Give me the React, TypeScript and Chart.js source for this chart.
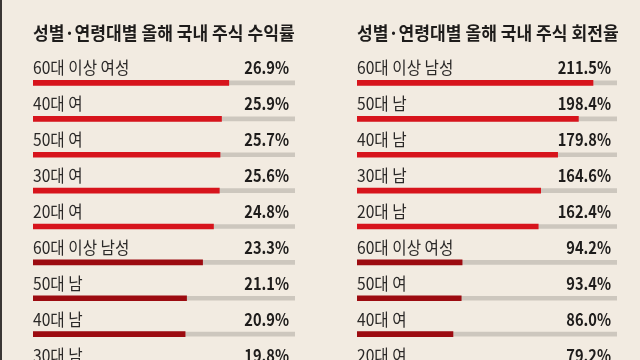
import React, { useEffect, useRef } from "react";
import { Chart, registerables } from "chart.js";

Chart.register(...registerables);

// ---- data ----
const returnTitle = "성별·연령대별 올해 국내 주식 수익률";
const returnLabels = ["60대 이상 여성", "40대 여", "50대 여", "30대 여", "20대 여", "60대 이상 남성", "50대 남", "40대 남", "30대 남"];
const returnValues = [26.9, 25.9, 25.7, 25.6, 24.8, 23.3, 21.1, 20.9, 19.8];
const returnHighlight = [true, true, true, true, true, false, false, false, false];
const returnMax = 36;

const turnoverTitle = "성별·연령대별 올해 국내 주식 회전율";
const turnoverLabels = ["60대 이상 남성", "50대 남", "40대 남", "30대 남", "20대 남", "60대 이상 여성", "50대 여", "40대 여", "20대 여"];
const turnoverValues = [211.5, 198.4, 179.8, 164.6, 162.4, 94.2, 93.4, 86.0, 79.2];
const turnoverHighlight = [true, true, true, true, true, false, false, false, false];
const turnoverMax = 233;

const BG = "#f2ebe1";
const RED = "#d7141c";
const DARK_RED = "#9c0b10";
const TRACK = "#cdc7be";
const FONT = '"Noto Sans CJK KR", "Noto Sans", sans-serif';

type PanelProps = {
  title: string;
  labels: string[];
  values: number[];
  highlight: boolean[];
  max: number;
  padLeft: number;
  padRight: number;
  border?: boolean;
};

function Panel({ title, labels, values, highlight, max, padLeft, padRight, border }: PanelProps) {
  const ref = useRef<HTMLCanvasElement | null>(null);
  useEffect(() => {
    if (!ref.current) return;
    const textPlugin = {
      id: "rowText",
      beforeDraw(chart: any) {
        if (border) {
          const ctx = chart.ctx;
          ctx.save();
          ctx.fillStyle = "#3a3634";
          ctx.fillRect(0, 0, 2, chart.height);
          ctx.restore();
        }
      },
      afterDatasetsDraw(chart: any) {
        const ctx = chart.ctx as CanvasRenderingContext2D;
        const area = chart.chartArea;
        const yScale = chart.scales.y;
        ctx.save();
        // title
        ctx.fillStyle = "#1e1c1b";
        ctx.textBaseline = "middle";
        ctx.textAlign = "left";
        ctx.font = `bold 18px ${FONT}`;
        ctx.save();
        ctx.translate(area.left, 33);
        ctx.scale(0.95, 1);
        ctx.fillText(title, 0, 0);
        ctx.restore();
        labels.forEach((lab, i) => {
          const y = yScale.getPixelForValue(i);
          ctx.fillStyle = "#2b2928";
          ctx.font = `400 17px ${FONT}`;
          ctx.textAlign = "left";
          ctx.save();
          ctx.translate(area.left, y - 15);
          ctx.scale(0.92, 1);
          ctx.fillText(lab, 0, 0);
          ctx.restore();
          ctx.fillStyle = "#1e1c1b";
          ctx.font = `bold 17px ${FONT}`;
          ctx.textAlign = "right";
          ctx.save();
          ctx.translate(area.right - 6, y - 15);
          ctx.scale(0.86, 1);
          ctx.fillText(values[i].toFixed(1) + "%", 0, 0);
          ctx.restore();
        });
        ctx.restore();
      },
    };
    const chart = new Chart(ref.current, {
      type: "bar",
      data: {
        labels,
        datasets: [
          {
            data: values,
            backgroundColor: highlight.map((h) => (h ? RED : DARK_RED)),
            barThickness: 5,
            grouped: false,
            order: 0,
          } as any,
          {
            data: values.map(() => max),
            backgroundColor: TRACK,
            barThickness: 4,
            grouped: false,
            order: 1,
          } as any,
        ],
      },
      options: {
        indexAxis: "y",
        animation: false,
        responsive: false,
        maintainAspectRatio: false,
        layout: { padding: { left: padLeft, right: padRight, top: 65, bottom: 4 } },
        scales: {
          x: { display: false, min: 0, max },
          y: { display: false, offset: true },
        },
        plugins: {
          legend: { display: false },
          tooltip: { enabled: false },
          title: { display: false },
        },
      },
      plugins: [textPlugin],
    });
    return () => chart.destroy();
  }, []);
  return <canvas ref={ref} width={320} height={392} style={{ display: "block" }} />;
}

export default function App() {
  return (
    <div
      style={{
        position: "fixed",
        left: 0,
        top: 0,
        width: 640,
        height: 360,
        overflow: "hidden",
        background: BG,
        display: "flex",
      }}
    >
      <Panel
        title={returnTitle}
        labels={returnLabels}
        values={returnValues}
        highlight={returnHighlight}
        max={returnMax}
        padLeft={33}
        padRight={25}
        border
      />
      <Panel
        title={turnoverTitle}
        labels={turnoverLabels}
        values={turnoverValues}
        highlight={turnoverHighlight}
        max={turnoverMax}
        padLeft={37}
        padRight={23}
      />
    </div>
  );
}
